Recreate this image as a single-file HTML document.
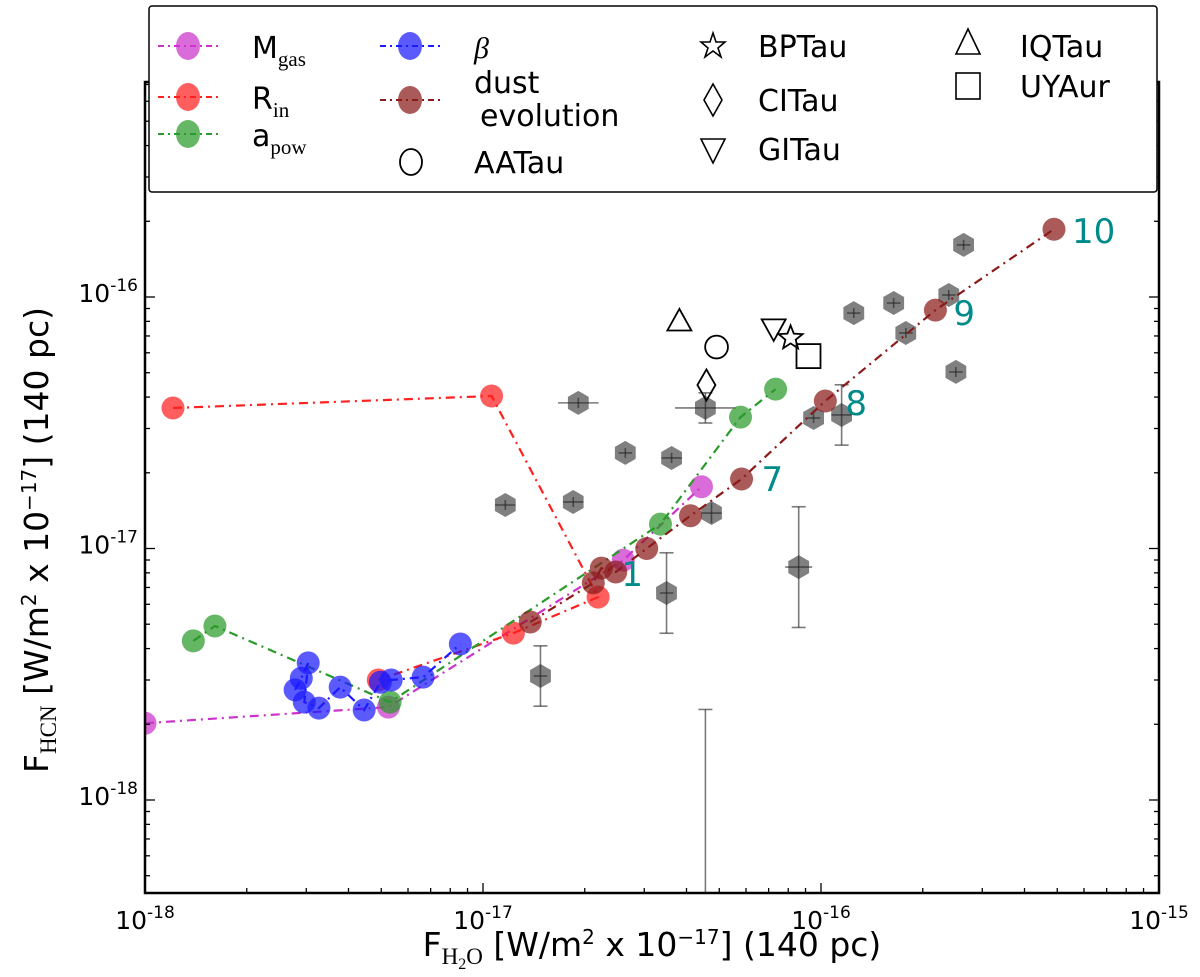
<!DOCTYPE html>
<html><head><meta charset="utf-8"><style>
html,body{margin:0;padding:0;background:#fff;overflow:hidden;width:1200px;height:977px;}
svg{display:block;font-family:"DejaVu Sans","Liberation Sans",sans-serif;}
</style></head><body>
<svg id="chart" width="1200" height="977" viewBox="0 0 1200 977">
<defs><clipPath id="pc"><rect x="145" y="82" width="1014" height="811"/></clipPath></defs>
<g id="plot" clip-path="url(#pc)"></g>
<g id="axes"></g>
<text x="652" y="956" text-anchor="middle" font-size="33">F<tspan font-family="Liberation Serif,serif" font-size="23" dy="8">H<tspan font-size="16" dy="5">2</tspan><tspan dy="-5">O</tspan></tspan><tspan dy="-8"> [W/m</tspan><tspan font-size="20" dy="-12">2</tspan><tspan dy="12"> x 10</tspan><tspan font-size="20" dy="-12">−17</tspan><tspan dy="12">] (140 pc)</tspan></text>
<text transform="translate(48,540) rotate(-90)" text-anchor="middle" font-size="33">F<tspan font-family="Liberation Serif,serif" font-size="23" dy="8">HCN</tspan><tspan dy="-8"> [W/m</tspan><tspan font-size="20" dy="-12">2</tspan><tspan dy="12"> x 10</tspan><tspan font-size="20" dy="-12">−17</tspan><tspan dy="12">] (140 pc)</tspan></text>
<g>
<rect x="149" y="6" width="1008" height="186" fill="#fff" stroke="#000" stroke-width="1.5" rx="3"/>
<g><line x1="158" x2="218" y1="46" y2="46" stroke="#cc33cc" stroke-width="2" stroke-dasharray="6,4,2,4"/><ellipse cx="188" cy="46" rx="12" ry="14" fill="#cc33cc" fill-opacity="0.72"/><text x="252" y="58" font-size="30">M<tspan font-family="Liberation Serif,serif" font-size="21" dy="8">gas</tspan></text></g>
<g><line x1="158" x2="218" y1="97" y2="97" stroke="#ff2020" stroke-width="2" stroke-dasharray="6,4,2,4"/><ellipse cx="188" cy="97" rx="12" ry="14" fill="#ff2020" fill-opacity="0.72"/><text x="252" y="109" font-size="30">R<tspan font-family="Liberation Serif,serif" font-size="21" dy="8">in</tspan></text></g>
<g><line x1="158" x2="218" y1="134" y2="134" stroke="#2a9a2a" stroke-width="2" stroke-dasharray="6,4,2,4"/><ellipse cx="188" cy="134" rx="12" ry="14" fill="#2a9a2a" fill-opacity="0.72"/><text x="252" y="146" font-size="30">a<tspan font-family="Liberation Serif,serif" font-size="21" dy="8">pow</tspan></text></g>
<g><line x1="380" x2="440" y1="46" y2="46" stroke="#1a1aff" stroke-width="2" stroke-dasharray="6,4,2,4"/><ellipse cx="410" cy="46" rx="12" ry="14" fill="#1a1aff" fill-opacity="0.72"/><text x="474" y="58" font-size="30" font-style="italic" font-family="Liberation Serif,serif">β</text></g>
<g><line x1="380" x2="440" y1="100" y2="100" stroke="#8b1a1a" stroke-width="2" stroke-dasharray="6,4,2,4"/><ellipse cx="410" cy="100" rx="12" ry="14" fill="#8b1a1a" fill-opacity="0.72"/><text x="474" y="93" font-size="30">dust</text><text x="480" y="126" font-size="30">evolution</text></g>
<g><ellipse cx="411" cy="162" rx="11" ry="13" fill="none" stroke="#000" stroke-width="1.8"/><text x="474" y="173" font-size="30">AATau</text></g>
<g><polygon points="713,33 716,42 725,42 718,48 721,57 713,51 705,57 708,48 701,42 710,42" fill="none" stroke="#000" stroke-width="1.6"/><text x="758" y="57" font-size="30">BPTau</text></g>
<g><polygon points="713,84 722,100 713,116 704,100" fill="none" stroke="#000" stroke-width="1.6"/><text x="758" y="111" font-size="30">CITau</text></g>
<g><polygon points="701,139 725,139 713,163" fill="none" stroke="#000" stroke-width="1.6"/><text x="758" y="160" font-size="30">GITau</text></g>
<g><polygon points="968,29 980,54 956,54" fill="none" stroke="#000" stroke-width="1.6"/><text x="1020" y="57" font-size="30">IQTau</text></g>
<g><rect x="956" y="73" width="24" height="26" fill="none" stroke="#000" stroke-width="1.6"/><text x="1020" y="97" font-size="30">UYAur</text></g>
</g>
</svg>
<script>
// model series (linear flux values, W/m^2)
const mgasX=[1.0e-18,5.25e-18,2.60e-17,4.43e-17];
const mgasY=[2.02e-18,2.34e-18,8.99e-18,1.76e-17];
const rinX=[1.21e-18,1.06e-17,2.19e-17,1.23e-17,4.90e-18];
const rinY=[3.62e-17,4.04e-17,6.41e-18,4.61e-18,3.00e-18];
const apowX=[1.39e-18,1.61e-18,5.31e-18,3.35e-17,5.78e-17,7.34e-17];
const apowY=[4.29e-18,4.92e-18,2.45e-18,1.25e-17,3.33e-17,4.30e-17];
const betaX=[2.78e-18,2.90e-18,3.04e-18,2.96e-18,3.27e-18,3.78e-18,4.45e-18,4.97e-18,5.35e-18,6.65e-18,8.57e-18];
const betaY=[2.74e-18,3.05e-18,3.51e-18,2.45e-18,2.32e-18,2.81e-18,2.28e-18,2.94e-18,3.00e-18,3.08e-18,4.17e-18];
const dustX=[1.38e-17,2.12e-17,2.24e-17,2.47e-17,3.05e-17,4.11e-17,5.82e-17,1.03e-16,2.18e-16,4.89e-16];
const dustY=[5.10e-18,7.30e-18,8.36e-18,8.06e-18,1.00e-17,1.35e-17,1.89e-17,3.86e-17,8.87e-17,1.86e-16];
const dustLabels=[{i:2,t:"1",dx:28,dy:18},{i:6,t:"7",dx:28,dy:12},{i:7,t:"8",dx:28,dy:14},{i:8,t:"9",dx:26,dy:15},{i:9,t:"10",dx:26,dy:14}];
// observations (log10 values, dex errors)
const obsLX=[-16.934,-16.733,-16.718,-16.579,-16.442,-16.342,-16.324,-16.457,-16.830,-16.066,-16.022,-15.939,-15.903,-15.785,-15.749,-15.601,-15.622,-15.578,-16.342];
const obsLY=[-16.827,-16.815,-16.421,-16.620,-16.640,-16.441,-16.859,-17.177,-17.507,-17.074,-16.481,-16.469,-16.064,-16.024,-16.143,-16.298,-15.992,-15.793,-18.6];
const obsXE=[0.03,0.03,0.06,0.02,0.03,0.09,0.03,0.02,0.02,0.04,0.02,0.03,0.02,0.02,0.02,0.02,0.02,0.02,0];
const obsYE=[0.02,0.02,0.02,0.02,0.02,0.06,0.04,0.16,0.12,0.24,0.02,0.12,0.02,0.02,0.02,0.02,0.02,0.02,0.96];
// individual sources (log10)
const srcNames=["IQTau","AATau","CITau","GITau","BPTau","UYAur"];
const srcLX=[-16.419,-16.309,-16.339,-16.140,-16.090,-16.037];
const srcLY=[-16.095,-16.199,-16.350,-16.127,-16.163,-16.235];

const NS="http://www.w3.org/2000/svg";
const L=145,R=1159,T=82,B=893;
function XL(l){return L+338*(l+18);}
function YL(l){return 297-251.5*(l+16);}
function X(v){return XL(Math.log10(v));}
function Y(v){return YL(Math.log10(v));}
function mk(tag,at,parent){const e=document.createElementNS(NS,tag);for(const k in at)e.setAttribute(k,at[k]);parent.appendChild(e);return e;}
const plot=document.getElementById('plot'),axes=document.getElementById('axes');

function hexPath(cx,cy,r){let d="";for(let k=0;k<6;k++){const a=Math.PI/6+k*Math.PI/3;d+=(k?"L":"M")+(cx+r*Math.cos(a)).toFixed(1)+","+(cy+r*Math.sin(a)).toFixed(1);}return d+"Z";}
for(let i=0;i<obsLX.length;i++){
  const g=mk('g',{},plot);
  
  
  const cx=XL(obsLX[i]),cy=YL(obsLY[i]);
  mk('path',{d:hexPath(cx,cy,12),fill:'#444','fill-opacity':0.68},g);
  const x1=XL(obsLX[i]-obsXE[i]),x2=XL(obsLX[i]+obsXE[i]),y1=YL(obsLY[i]-obsYE[i]),y2=YL(obsLY[i]+obsYE[i]);
  const es={stroke:'#222','stroke-opacity':0.6,'stroke-width':1.6};
  mk('line',Object.assign({x1:x1,x2:x2,y1:cy,y2:cy},es),g);
  mk('line',Object.assign({x1:cx,x2:cx,y1:y1,y2:y2},es),g);
  if(obsYE[i]>0.05){mk('line',Object.assign({x1:cx-7,x2:cx+7,y1:y1,y2:y1},es),g);mk('line',Object.assign({x1:cx-7,x2:cx+7,y1:y2,y2:y2},es),g);}
}
function series(name,xs,ys,col){
  const g=mk('g',{},plot);
  
  
  mk('polyline',{points:xs.map((x,i)=>X(x).toFixed(1)+","+Y(ys[i]).toFixed(1)).join(" "),fill:'none',stroke:col,'stroke-width':2.2,'stroke-dasharray':'9,5,2,5'},g);
  xs.forEach((x,i)=>{const c=mk('circle',{cx:X(x),cy:Y(ys[i]),r:11.5,fill:col,'fill-opacity':0.72},g);
    
    });
}
series('mgas',mgasX,mgasY,'#cc33cc');
series('rin',rinX,rinY,'#ff2020');
series('apow',apowX,apowY,'#2a9a2a');
series('beta',betaX,betaY,'#1a1aff');
series('dust-evolution',dustX,dustY,'#8b1a1a');
dustLabels.forEach(o=>{const t=mk('text',{x:X(dustX[o.i])+o.dx-8,y:Y(dustY[o.i])+o.dy,fill:'#008b8b','font-size':34},plot);t.textContent=o.t;
  
  });
function marker(type,cx,cy,parent,s){
  const st={fill:'none',stroke:'#000','stroke-width':1.8};let e;
  if(type==='IQTau')e=mk('polygon',Object.assign({points:`${cx},${cy-s} ${cx-s},${cy+s*0.8} ${cx+s},${cy+s*0.8}`},st),parent);
  else if(type==='AATau')e=mk('circle',Object.assign({cx:cx,cy:cy,r:s*0.95},st),parent);
  else if(type==='CITau')e=mk('polygon',Object.assign({points:`${cx},${cy-s*1.3} ${cx+s*0.75},${cy} ${cx},${cy+s*1.3} ${cx-s*0.75},${cy}`},st),parent);
  else if(type==='GITau')e=mk('polygon',Object.assign({points:`${cx-s},${cy-s*0.8} ${cx+s},${cy-s*0.8} ${cx},${cy+s}`},st),parent);
  else if(type==='BPTau'){let p="";for(let k=0;k<10;k++){const r=k%2?s*0.45:s*1.05,a=-Math.PI/2+k*Math.PI/5;p+=(cx+r*Math.cos(a)).toFixed(1)+","+(cy+r*Math.sin(a)).toFixed(1)+" ";}e=mk('polygon',Object.assign({points:p},st),parent);}
  else e=mk('rect',Object.assign({x:cx-s,y:cy-s,width:2*s,height:2*s},st),parent);
  return e;
}
srcNames.forEach((n,i)=>{const e=marker(n,XL(srcLX[i]),YL(srcLY[i]),plot,12);
  
  });
mk('rect',{x:L,y:T,width:R-L,height:B-T,fill:'none',stroke:'#000','stroke-width':2.5},axes);
for(let d=-18;d<=-15;d++){for(let m=1;m<10;m++){const l=d+Math.log10(m);if(l>-15)break;const x=XL(l),len=m===1?10:5;
  mk('line',{x1:x,x2:x,y1:B,y2:B-len,stroke:'#000','stroke-width':1.3},axes);mk('line',{x1:x,x2:x,y1:T,y2:T+len,stroke:'#000','stroke-width':1.3},axes);}}
for(let d=-19;d<=-15;d++){for(let m=1;m<10;m++){const l=d+Math.log10(m);const y=YL(l);if(y<T||y>B)continue;const len=m===1?10:5;
  mk('line',{x1:L,x2:L+len,y1:y,y2:y,stroke:'#000','stroke-width':1.3},axes);mk('line',{x1:R,x2:R-len,y1:y,y2:y,stroke:'#000','stroke-width':1.3},axes);}}
const xTicks=[-18,-17,-16,-15],yTicks=[-18,-17,-16];
xTicks.forEach(d=>{const t=mk('text',{x:XL(d),y:929,'text-anchor':'middle','font-size':25},axes);t.innerHTML='10<tspan dy="-11" font-size="17">'+d+'</tspan>';
  
  });
yTicks.forEach(d=>{const t=mk('text',{x:138,y:YL(d)+5,'text-anchor':'end','font-size':25},axes);t.innerHTML='10<tspan dy="-11" font-size="17">'+d+'</tspan>';
  
  });
</script>
</body></html>
